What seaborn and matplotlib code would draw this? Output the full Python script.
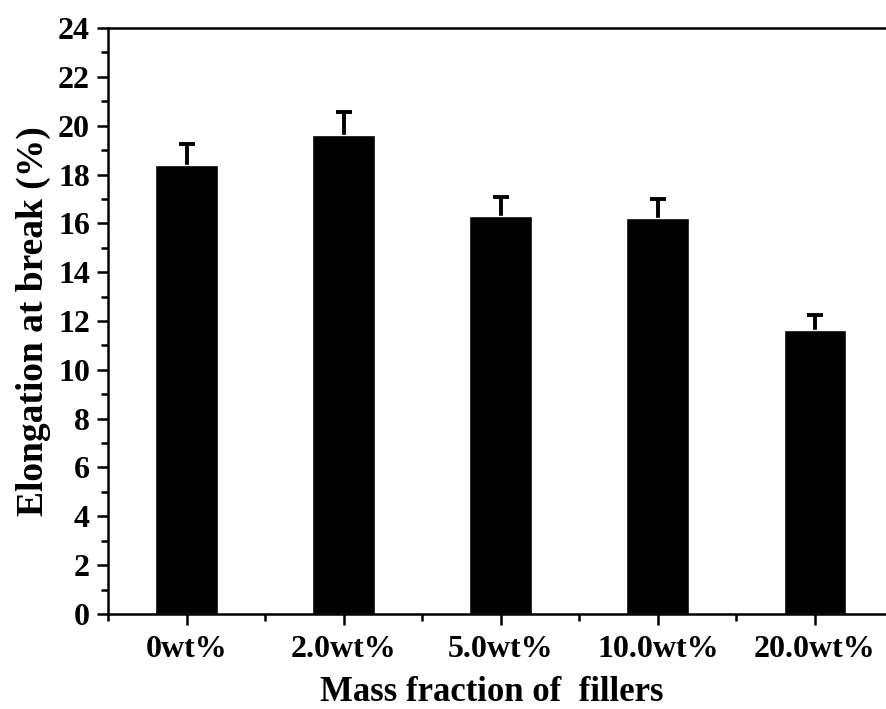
import numpy as np
import pandas as pd
import matplotlib
matplotlib.use("Agg")
import matplotlib.pyplot as plt
import seaborn as sns
from matplotlib.ticker import MultipleLocator

# Data
fillers = ["0wt%", "2.0wt%", "5.0wt%", "10.0wt%", "20.0wt%"]
elongation = [18.38, 19.62, 16.29, 16.21, 11.65]
error = [0.86, 0.96, 0.79, 0.79, 0.59]

df = pd.DataFrame({"filler": fillers, "elongation": elongation, "err": error})

sns.set_theme(style="ticks")
plt.rcParams["font.family"] = ["Liberation Serif", "DejaVu Serif"]
plt.rcParams["font.weight"] = "bold"
plt.rcParams["text.color"] = "black"
plt.rcParams["axes.labelcolor"] = "black"
plt.rcParams["xtick.color"] = "black"
plt.rcParams["ytick.color"] = "black"

fig = plt.figure(figsize=(8.86, 7.09), dpi=100)
ax = fig.add_axes([0.1219, 0.134, 0.8866, 0.8265])

sns.barplot(data=df, x="filler", y="elongation", color="black",
            width=0.4, errorbar=None, saturation=1, ax=ax, zorder=2)
# symmetric bars drawn behind the columns, so only the upper half shows
ax.errorbar(np.arange(len(fillers)), df["elongation"], yerr=df["err"],
            fmt="none", ecolor="black", elinewidth=2.8, capsize=5.5,
            capthick=2.8, zorder=1)

ax.set_xlim(-0.5, 4.5)
ax.set_ylim(0, 24)
ax.yaxis.set_major_locator(MultipleLocator(2))
ax.yaxis.set_minor_locator(MultipleLocator(1))
ax.set_xticks(range(len(fillers)))
ax.set_xticks(np.arange(-0.5, 5.0, 1.0), minor=True)
ax.set_xticklabels(fillers)

for side in ["left", "bottom", "top"]:
    ax.spines[side].set_linewidth(1.8)
    ax.spines[side].set_color("black")
ax.spines["right"].set_visible(False)

ax.tick_params(axis="both", which="major", direction="out", length=8,
               width=1.8, labelsize=23, colors="black", pad=5)
ax.tick_params(axis="x", which="major", pad=7)
ax.tick_params(axis="both", which="minor", direction="out", length=5,
               width=1.8, colors="black")
ax.tick_params(top=False, right=False, which="both")
for lbl in ax.get_xticklabels() + ax.get_yticklabels():
    lbl.set_fontweight("bold")

ax.set_xlabel("Mass fraction of  fillers", fontsize=25, fontweight="bold")
ax.set_ylabel("Elongation at break (%)", fontsize=27, fontweight="bold")
ax.xaxis.set_label_coords(0.489, -0.105)
ax.yaxis.set_label_coords(-0.072, 0.5)

fig.savefig("out.png", dpi=100)
